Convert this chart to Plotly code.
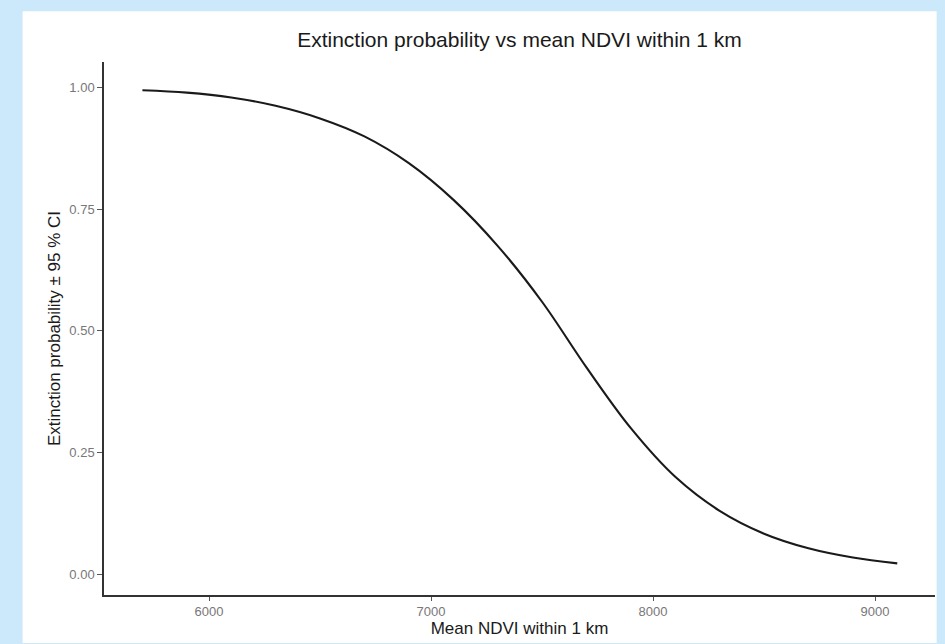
import plotly.graph_objects as go

ndvi = [5700, 5900, 6100, 6300, 6500, 6700, 6900, 7100, 7300, 7500, 7700, 7900, 8100, 8300, 8500, 8700, 8900, 9100]
prob = [0.995, 0.990, 0.980, 0.963, 0.937, 0.900, 0.845, 0.770, 0.675, 0.560, 0.425, 0.300, 0.200, 0.130, 0.083, 0.053, 0.034, 0.022]

x_ticks = [6000, 7000, 8000, 9000]
y_ticks = [0.00, 0.25, 0.50, 0.75, 1.00]

FONT = "Liberation Sans, Arial, sans-serif"

fig = go.Figure()
fig.add_trace(go.Scatter(
    x=ndvi, y=prob, mode="lines",
    line=dict(color="#1a1a1a", width=2.1, shape="spline", smoothing=1.0),
    showlegend=False, hoverinfo="skip",
))

fig.add_shape(type="rect", xref="paper", yref="paper",
              x0=-0.098, x1=1.002, y0=-0.09, y1=1.095,
              fillcolor="white", line=dict(width=0), layer="below")

fig.update_layout(
    width=945, height=644,
    margin=dict(l=104, r=10, t=62, b=47),
    paper_bgcolor="#cce8fb",
    plot_bgcolor="white",
    font=dict(family=FONT, color="#1a1a1a"),
    title=dict(text="Extinction probability vs mean NDVI within 1 km",
               x=0.5, xref="paper", xanchor="center",
               y=0.938, yref="container", yanchor="middle",
               font=dict(size=21, color="#1a1a1a")),
    xaxis=dict(
        range=[5527, 9270], tickvals=x_ticks, tickformat="d",
        showgrid=False, zeroline=False,
        showline=True, linecolor="#333333", linewidth=1.5,
        ticks="outside", ticklen=4, tickcolor="#555555", tickwidth=1,
        tickfont=dict(size=13, color="#777777"),
        title=dict(text="Mean NDVI within 1 km", font=dict(size=17, color="#1a1a1a"), standoff=3),
    ),
    yaxis=dict(
        range=[-0.043, 1.053], tickvals=y_ticks, tickformat=".2f",
        showgrid=False, zeroline=False,
        showline=True, linecolor="#333333", linewidth=1.5,
        ticks="outside", ticklen=5, tickcolor="#555555", tickwidth=1,
        tickfont=dict(size=13, color="#777777"),
        title=dict(text="Extinction probability ± 95 % CI", font=dict(size=17, color="#1a1a1a"), standoff=4),
    ),
)

fig.write_html("out.html")
